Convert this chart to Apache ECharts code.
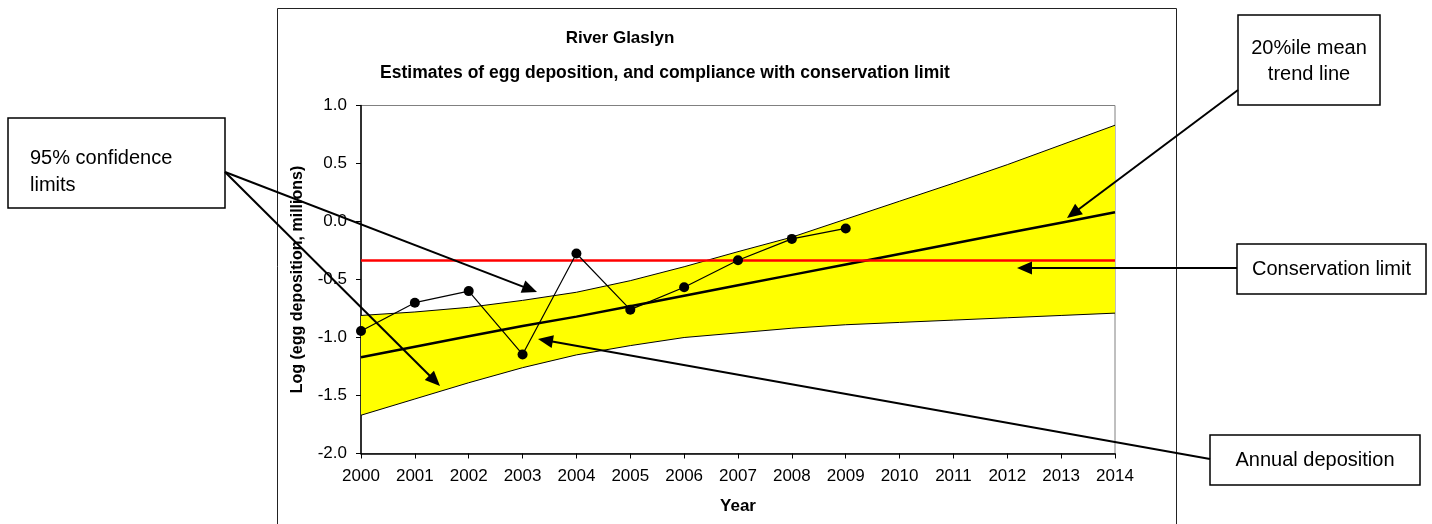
<!DOCTYPE html>
<html>
<head>
<meta charset="utf-8">
<script src="https://cdn.jsdelivr.net/npm/echarts@6/dist/echarts.min.js"></script>
<style>
html,body{margin:0;padding:0;background:#fff;}
#chart{width:1432px;height:524px;}
</style>
</head>
<body>
<div id="chart"></div>
<script>
// ---- data ----
const years = ['2000','2001','2002','2003','2004','2005','2006','2007','2008','2009','2010','2011','2012','2013','2014'];
const upperLimit = [-0.81,-0.78,-0.74,-0.68,-0.61,-0.51,-0.39,-0.26,-0.135,0.02,0.175,0.33,0.49,0.66,0.83];
const lowerLimit = [-1.67,-1.53,-1.39,-1.26,-1.15,-1.07,-1.00,-0.96,-0.92,-0.89,-0.87,-0.85,-0.83,-0.81,-0.79];
const trendLine  = [-1.17,-1.08,-0.99,-0.90,-0.82,-0.73,-0.64,-0.55,-0.46,-0.37,-0.28,-0.19,-0.10,-0.01,0.08];
const annualDeposition = [-0.944,-0.70,-0.60,-1.146,-0.276,-0.76,-0.567,-0.334,-0.15,-0.06,null,null,null,null,null];
const conservationLimit = -0.325;
const yTicks = {min:-2.0, max:1.0, step:0.5};

const bandWidth = upperLimit.map((u,i)=>+(u-lowerLimit[i]).toFixed(4));

const chart = echarts.init(document.getElementById('chart'), null, {renderer:'canvas'});
const FONT = '"Liberation Sans", Arial, sans-serif';

function arrow(x1,y1,x2,y2){
  const dx=x2-x1, dy=y2-y1, L=Math.hypot(dx,dy), ux=dx/L, uy=dy/L;
  const hl=15, hw=6.5;
  const bx=x2-ux*hl, by=y2-uy*hl;
  return [
    {type:'line', z:100, shape:{x1:x1,y1:y1,x2:bx+ux*2,y2:by+uy*2}, style:{stroke:'#000', lineWidth:2}},
    {type:'polygon', z:100, shape:{points:[[x2,y2],[bx-uy*hw,by+ux*hw],[bx+uy*hw,by-ux*hw]]}, style:{fill:'#000'}}
  ];
}
function box(x,y,w,h){
  return {type:'rect', z:100, shape:{x:x,y:y,width:w,height:h}, style:{fill:'#fff', stroke:'#000', lineWidth:1.5}};
}
function txt(x,y,t,size,bold,align){
  return {type:'text', z:101, x:x, y:y, style:{text:t, fill:'#000',
    font:(bold?'bold ':'')+size+'px '+FONT,
    align:align||'center', verticalAlign:'middle', textAlign:align||'center', textVerticalAlign:'middle'}};
}

const graphics = [
  {type:'rect', z:-1, shape:{x:277.5,y:8.5,width:899,height:540}, style:{fill:'none', stroke:'#222', lineWidth:1}},
  txt(620,38,'River Glaslyn',17,true),
  txt(665,73,'Estimates of egg deposition, and compliance with conservation limit',17.5,true),
  box(8,118,217,90),
  txt(30,158,'95% confidence',20,false,'left'),
  txt(30,185,'limits',20,false,'left'),
  box(1238,15,142,90),
  txt(1309,48,'20%ile mean',20,false),
  txt(1309,74,'trend line',20,false),
  box(1237,244,189,50),
  txt(1331.5,269,'Conservation limit',20,false),
  box(1210,435,210,50),
  txt(1315,460,'Annual deposition',20,false)
].concat(
  arrow(225,172,537,292),
  arrow(225,172,440,386),
  arrow(1238,90,1067,218),
  arrow(1237,268,1017,268),
  arrow(1210,459,538,339)
);

chart.setOption({
  animation:false,
  backgroundColor:'#fff',
  grid:{left:361, right:317, top:105.5, bottom:70.5, show:true, borderColor:'#808080', borderWidth:1, backgroundColor:'#fff'},
  xAxis:{
    type:'category', data:years, boundaryGap:false,
    name:'Year', nameLocation:'middle', nameGap:44,
    nameTextStyle:{fontFamily:FONT, fontWeight:'bold', fontSize:17, color:'#000'},
    axisLine:{show:true, onZero:false, lineStyle:{color:'#000', width:1.5}},
    axisTick:{show:true, inside:false, length:5, lineStyle:{color:'#000'}},
    axisLabel:{fontFamily:FONT, fontSize:17, color:'#000', margin:14},
    splitLine:{show:false}
  },
  yAxis:{
    type:'value', min:yTicks.min, max:yTicks.max, interval:yTicks.step,
    name:'Log (egg deposition, millions)', nameLocation:'middle', nameGap:55, nameRotate:90,
    nameTextStyle:{fontFamily:FONT, fontWeight:'bold', fontSize:16, color:'#000'},
    axisLine:{show:true, lineStyle:{color:'#000', width:1.5}},
    axisTick:{show:true, inside:false, length:5, lineStyle:{color:'#000'}},
    axisLabel:{fontFamily:FONT, fontSize:17, color:'#000', margin:14, formatter:v=>v.toFixed(1)},
    splitLine:{show:false}
  },
  series:[
    {name:'Lower 95% limit', type:'line', data:lowerLimit, stack:'band', stackStrategy:'all',
     symbol:'none', lineStyle:{color:'#000', width:1}, z:2},
    {name:'Upper 95% limit', type:'line', data:bandWidth, stack:'band', stackStrategy:'all',
     symbol:'none', lineStyle:{color:'#000', width:1}, areaStyle:{color:'#FFFF00', opacity:1}, z:2},
    {name:'Conservation limit', type:'line', data:[], symbol:'none', z:3,
     markLine:{silent:true, symbol:'none', label:{show:false},
       lineStyle:{color:'#FF0000', width:2.5, type:'solid'},
       data:[{yAxis:conservationLimit}]}},
    {name:'20%ile mean trend line', type:'line', data:trendLine, symbol:'none',
     lineStyle:{color:'#000', width:2.5}, z:4},
    {name:'Annual deposition', type:'line', data:annualDeposition, symbol:'circle', symbolSize:10,
     itemStyle:{color:'#000'}, lineStyle:{color:'#000', width:1.2}, z:5, connectNulls:false}
  ],
  graphic:{elements:graphics}
});
</script>
</body>
</html>
